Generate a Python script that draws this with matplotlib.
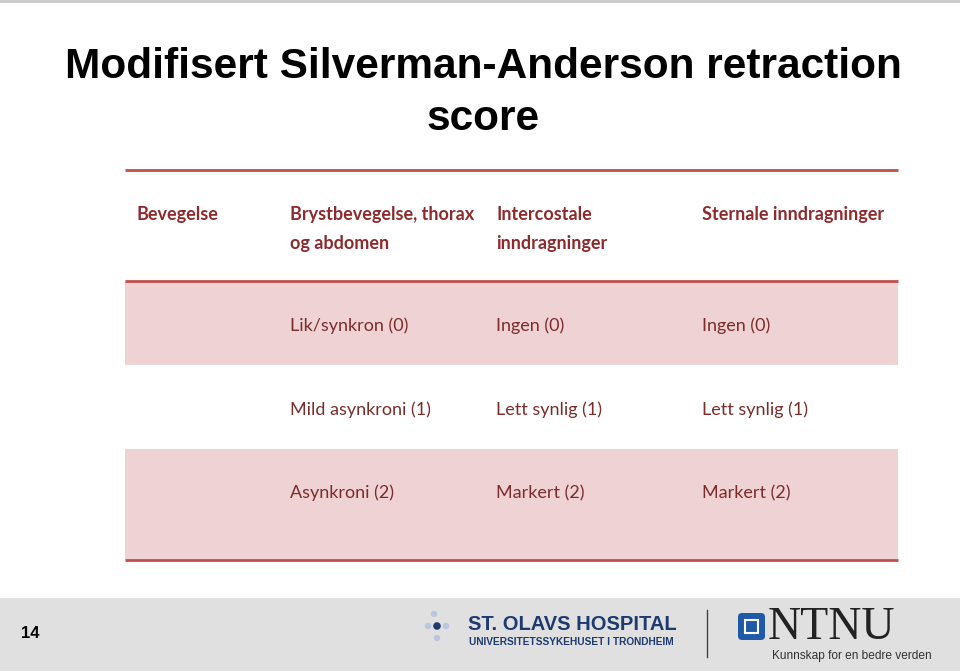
import matplotlib.pyplot as plt
from matplotlib.patches import Rectangle, Circle, FancyBboxPatch

# table content
title_lines = ['Modifisert Silverman-Anderson retraction', 'score']
headers = ['Bevegelse', 'Brystbevegelse, thorax\nog abdomen', 'Intercostale\ninndragninger',
           'Sternale inndragninger']
row_labels = ['', '', '']
col_thorax = ['Lik/synkron (0)', 'Mild asynkroni (1)', 'Asynkroni (2)']
col_intercost = ['Ingen (0)', 'Lett synlig (1)', 'Markert (2)']
col_sternal = ['Ingen (0)', 'Lett synlig (1)', 'Markert (2)']
page_no = '14'

W, H = 960, 671
fig = plt.figure(figsize=(W / 100, H / 100), dpi=100)
ax = fig.add_axes([0, 0, 1, 1])
ax.set_xlim(0, W)
ax.set_ylim(H, 0)
ax.axis('off')

line_red = '#c0504d'
pink = '#efd3d4'
head_col = '#8e2a2e'
body_col = '#7b2c2c'
tfont = ['Lato', 'DejaVu Sans']

# top grey strip
ax.add_patch(Rectangle((0, 0), W, 3, color='#cccccc', lw=0))

# title
for i, t in enumerate(title_lines):
    ax.text(483, 67 + i * 52, t, ha='center', va='center', fontsize=30.5,
            fontweight='bold', family='Liberation Sans', color='black')

# table geometry
x0, x1 = 125, 898
col_x = [136, 290, 496, 702]
row_edges = [281, 365, 449, 560]
row_text_y = [326, 410, 493]

for i in range(3):
    if i % 2 == 0:
        ax.add_patch(Rectangle((x0, row_edges[i]), x1 - x0, row_edges[i + 1] - row_edges[i],
                               color=pink, lw=0))

for y in [170, 281, 560]:
    ax.plot([x0, x1], [y, y], color=line_red, lw=2.0, solid_capstyle='butt')

for x, h in zip(col_x, headers):
    ax.text(x, 206, h, ha='left', va='top', fontsize=13, fontweight='bold',
            family=tfont, color=head_col, linespacing=1.85)

for i in range(3):
    vals = [row_labels[i], col_thorax[i], col_intercost[i], col_sternal[i]]
    for x, v in zip(col_x, vals):
        ax.text(x, row_text_y[i], v, ha='left', va='center', fontsize=13,
                family=tfont, color=body_col)

# footer band
ax.add_patch(Rectangle((0, 598), W, H - 598, color='#e0e0e0', lw=0))
ax.text(30, 634, page_no, ha='center', va='center', fontsize=12, fontweight='bold',
        family='Liberation Sans', color='black')

# St. Olavs logo
dots = [(434, 614, 3.2, '#b9c6dd'), (428, 626, 3.2, '#b9c6dd'), (437, 626, 3.8, '#1f3a6e'),
        (446, 626, 3.2, '#b9c6dd'), (437, 638, 3.2, '#b9c6dd')]
for cx, cy, r, c in dots:
    ax.add_patch(Circle((cx, cy), r, color=c, lw=0))
ax.text(468, 624, 'ST. OLAVS HOSPITAL', ha='left', va='center', fontsize=14.5,
        fontweight='bold', family='Liberation Sans', color='#1f3a6e')
ax.text(469, 642, 'UNIVERSITETSSYKEHUSET I TRONDHEIM', ha='left', va='center', fontsize=7.3,
        fontweight='bold', family='Liberation Sans', color='#1f3a6e')

ax.plot([707, 707], [610, 657], color='#444444', lw=1)

# NTNU logo
ax.add_patch(FancyBboxPatch((738, 613), 27, 27, boxstyle='round,pad=0,rounding_size=4',
                            color='#1f5aa6', lw=0))
ax.add_patch(Rectangle((745, 620), 13, 13, facecolor='#1f5aa6', edgecolor='white', lw=1.5))
ax.text(768, 628, 'NTNU', ha='left', va='center', fontsize=33, family='Liberation Serif',
        color='#222222')
ax.text(932, 656, 'Kunnskap for en bedre verden', ha='right', va='center', fontsize=8.6,
        family='Liberation Sans', color='#333333')

fig.savefig('out.png', dpi=100)
